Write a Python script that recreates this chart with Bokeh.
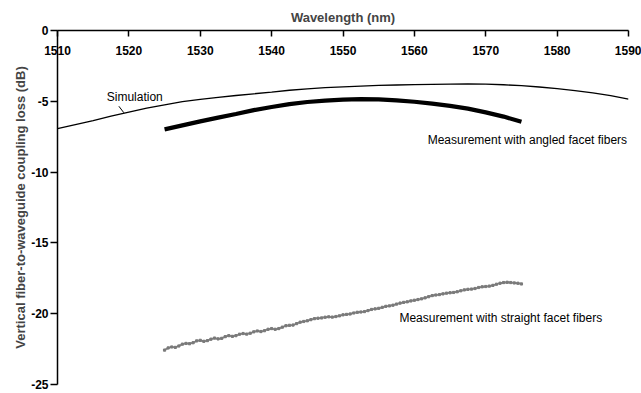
from bokeh.plotting import figure
from bokeh.models import LinearAxis, FixedTicker, Range1d, Label, ColumnDataSource, PrintfTickFormatter
from bokeh.embed import file_html
from bokeh.resources import INLINE

# ---------------- data ----------------
XTICKS = [1510, 1520, 1530, 1540, 1550, 1560, 1570, 1580, 1590]
YTICKS = [0, -5, -10, -15, -20, -25]

sim_wl = [1510, 1512.5, 1515, 1517.5, 1520, 1522.5, 1525, 1527.5, 1530, 1532.5,
          1535, 1537.5, 1540, 1542.5, 1545, 1547.5, 1550, 1552.5, 1555, 1557.5,
          1560, 1562.5, 1565, 1567.5, 1570, 1572.5, 1575, 1577.5, 1580, 1582.5,
          1585, 1587.5, 1590]
sim_loss = [-6.93, -6.65, -6.37, -6.05, -5.76, -5.48, -5.25, -5.03, -4.86, -4.72,
            -4.59, -4.47, -4.35, -4.22, -4.12, -4.04, -3.98, -3.93, -3.88, -3.85,
            -3.82, -3.80, -3.79, -3.78, -3.79, -3.83, -3.90, -3.99, -4.10, -4.24,
            -4.40, -4.60, -4.84]

ang_wl = [1525, 1527.5, 1530, 1532.5, 1535, 1537.5, 1540, 1542.5, 1545, 1547.5,
          1550, 1552.5, 1555, 1557.5, 1560, 1562.5, 1565, 1567.5, 1570, 1572.5, 1575]
ang_loss = [-6.98, -6.70, -6.42, -6.15, -5.90, -5.62, -5.40, -5.20, -5.05, -4.95,
            -4.88, -4.85, -4.86, -4.93, -5.03, -5.17, -5.32, -5.52, -5.78, -6.08, -6.45]

str_wl = [1525.0, 1525.5, 1526.0, 1526.5, 1527.0, 1527.5, 1528.0, 1528.5, 1529.0, 1529.5,
          1530.0, 1530.5, 1531.0, 1531.5, 1532.0, 1532.5, 1533.0, 1533.5, 1534.0, 1534.5,
          1535.0, 1535.5, 1536.0, 1536.5, 1537.0, 1537.5, 1538.0, 1538.5, 1539.0, 1539.5,
          1540.0, 1540.5, 1541.0, 1541.5, 1542.0, 1542.5, 1543.0, 1543.5, 1544.0, 1544.5,
          1545.0, 1545.5, 1546.0, 1546.5, 1547.0, 1547.5, 1548.0, 1548.5, 1549.0, 1549.5,
          1550.0, 1550.5, 1551.0, 1551.5, 1552.0, 1552.5, 1553.0, 1553.5, 1554.0, 1554.5,
          1555.0, 1555.5, 1556.0, 1556.5, 1557.0, 1557.5, 1558.0, 1558.5, 1559.0, 1559.5,
          1560.0, 1560.5, 1561.0, 1561.5, 1562.0, 1562.5, 1563.0, 1563.5, 1564.0, 1564.5,
          1565.0, 1565.5, 1566.0, 1566.5, 1567.0, 1567.5, 1568.0, 1568.5, 1569.0, 1569.5,
          1570.0, 1570.5, 1571.0, 1571.5, 1572.0, 1572.5, 1573.0, 1573.5, 1574.0, 1574.5,
          1575.0]
str_loss = [-22.57, -22.42, -22.35, -22.38, -22.28, -22.15, -22.10, -22.12, -22.05, -21.92,
            -21.88, -21.95, -21.90, -21.80, -21.72, -21.78, -21.74, -21.62, -21.55, -21.60,
            -21.55, -21.45, -21.40, -21.44, -21.38, -21.28, -21.22, -21.26, -21.20, -21.10,
            -21.05, -21.10, -21.05, -20.95, -20.85, -20.82, -20.80, -20.70, -20.60, -20.55,
            -20.50, -20.42, -20.35, -20.32, -20.30, -20.25, -20.22, -20.24, -20.20, -20.15,
            -20.08, -20.05, -20.02, -19.95, -19.90, -19.88, -19.85, -19.78, -19.70, -19.66,
            -19.62, -19.55, -19.48, -19.45, -19.40, -19.32, -19.25, -19.20, -19.16, -19.10,
            -19.05, -19.00, -18.95, -18.88, -18.80, -18.72, -18.68, -18.65, -18.60, -18.55,
            -18.52, -18.50, -18.45, -18.38, -18.32, -18.28, -18.26, -18.22, -18.15, -18.10,
            -18.08, -18.05, -18.00, -17.92, -17.85, -17.80, -17.78, -17.80, -17.83, -17.85,
            -17.90]

FONT = "Liberation Sans"

p = figure(width=641, height=393, output_backend="svg", toolbar_location=None,
           x_range=Range1d(1510, 1590), y_range=Range1d(-25, 0),
           x_axis_location=None, y_axis_location=None,
           min_border_left=57, min_border_top=30, min_border_right=13, min_border_bottom=9)
p.outline_line_color = None
p.xgrid.visible = False
p.ygrid.visible = False
p.background_fill_color = "white"
p.border_fill_color = "white"

# top x axis with labels hanging below the axis line
xax = LinearAxis(ticker=FixedTicker(ticks=XTICKS), axis_label="Wavelength (nm)")
xax.axis_line_width = 1.5
xax.major_tick_line_width = 1.5
xax.major_tick_in = 6
xax.major_tick_out = 0
xax.minor_tick_in = 0
xax.minor_tick_out = 0
xax.major_label_standoff = -24
xax.major_label_text_font = FONT
xax.major_label_text_font_style = "bold"
xax.major_label_text_font_size = "12px"
xax.major_label_text_color = "black"
xax.axis_label_text_font = FONT
xax.axis_label_text_font_style = "bold"
xax.axis_label_text_font_size = "13px"
xax.axis_label_standoff = 18
p.add_layout(xax, "above")

yax = LinearAxis(ticker=FixedTicker(ticks=YTICKS),
                 axis_label="Vertical fiber-to-waveguide coupling loss (dB)")
yax.formatter = PrintfTickFormatter(format="%d")
yax.axis_line_width = 1.5
yax.major_tick_line_width = 1.5
yax.major_tick_in = 0
yax.major_tick_out = 7
yax.minor_tick_in = 0
yax.minor_tick_out = 0
yax.major_label_standoff = 2
yax.major_label_text_font = FONT
yax.major_label_text_font_style = "bold"
yax.major_label_text_font_size = "12px"
yax.major_label_text_color = "black"
yax.axis_label_text_font = FONT
yax.axis_label_text_font_style = "bold"
yax.axis_label_text_font_size = "13px"
yax.axis_label_standoff = 0
p.add_layout(yax, "left")

# series
p.line(sim_wl, sim_loss, line_color="black", line_width=1.3)
p.line(ang_wl, ang_loss, line_color="black", line_width=4.2)
src = ColumnDataSource(dict(x=str_wl, y=str_loss))
p.line("x", "y", source=src, line_color="#858585", line_width=1.8)
p.scatter("x", "y", source=src, marker="square", size=2.2,
          fill_color="#7a7a7a", line_color="#7a7a7a")

# annotations
p.segment(x0=[1518.6], y0=[-5.35], x1=[1519.3], y1=[-5.81], line_color="black", line_width=1)
p.add_layout(Label(x=1516.9, y=-4.68, text="Simulation", text_font=FONT,
                   text_font_size="12px", text_baseline="middle", text_color="black"))
p.add_layout(Label(x=1589.8, y=-7.75, text="Measurement with angled facet fibers",
                   text_font=FONT, text_font_size="12px", text_baseline="middle",
                   text_align="right", text_color="black"))
p.add_layout(Label(x=1557.9, y=-20.28, text="Measurement with straight facet fibers",
                   text_font=FONT, text_font_size="12px", text_baseline="middle",
                   text_color="black"))

open("out.html", "w").write(file_html(p, INLINE))
